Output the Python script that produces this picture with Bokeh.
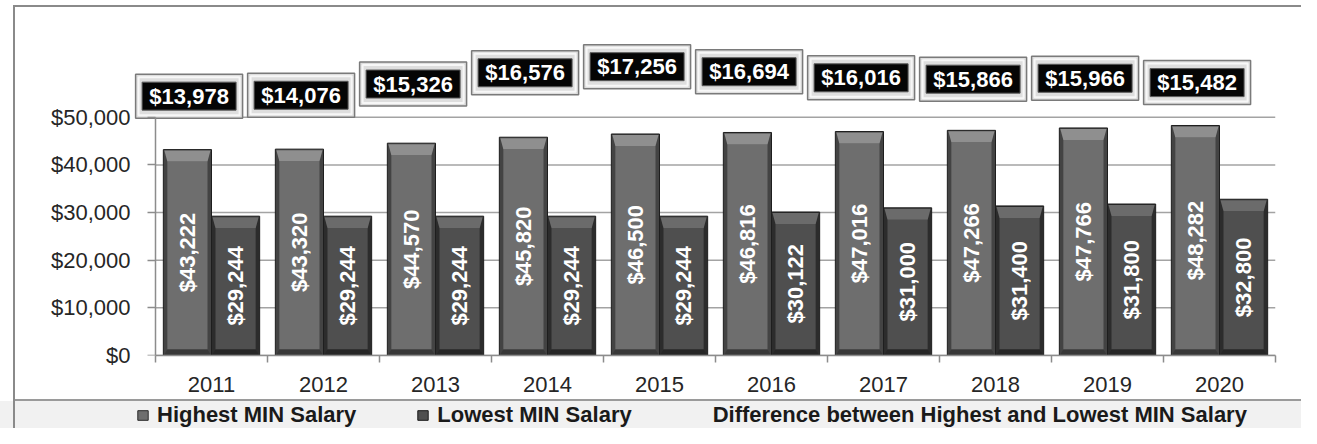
import math
from bokeh.plotting import figure
from bokeh.layouts import column
from bokeh.models import (Range1d, FixedTicker, NumeralTickFormatter, Legend, LegendItem,
                          LinearAxis)
from bokeh.core.properties import value
from bokeh.embed import file_html
from bokeh.resources import INLINE

# ---------------- data ----------------
years = ["2011", "2012", "2013", "2014", "2015", "2016", "2017", "2018", "2019", "2020"]
highest = [43222, 43320, 44570, 45820, 46500, 46816, 47016, 47266, 47766, 48282]
lowest = [29244, 29244, 29244, 29244, 29244, 30122, 31000, 31400, 31800, 32800]
difference = [13978, 14076, 15326, 16576, 17256, 16694, 16016, 15866, 15966, 15482]
y_ticks = [0, 10000, 20000, 30000, 40000, 50000]
series_names = ["Highest MIN Salary", "Lowest MIN Salary",
                "Difference between Highest and Lowest MIN Salary"]

# ---------------- layout ----------------
W = 1301
H_MAIN, H_LEG = 401, 27
AXIS_X = 155                 # pixel position of the value axis (x = 0)
B_LEFT, B_RIGHT, B_TOP = 133, 26, 12
FRAME_BOTTOM = 355
B_BOTTOM = H_MAIN - FRAME_BOTTOM
FRAME_W = W - B_LEFT - B_RIGHT
FRAME_H = H_MAIN - B_TOP - B_BOTTOM
Y_END = 72000
FONT = value("Liberation Sans")
GRAY_AX = "#8c8c8c"
BORDER = "#8a8a8a"

n = len(years)
px_per_cat = (W - B_RIGHT - AXIS_X) / n
X_PAD = (AXIS_X - B_LEFT) / px_per_cat

p = figure(width=W, height=H_MAIN, output_backend="svg", toolbar_location=None,
           x_range=Range1d(-X_PAD, n), y_range=Range1d(0, Y_END),
           min_border_left=B_LEFT, min_border_right=B_RIGHT,
           min_border_top=B_TOP, min_border_bottom=B_BOTTOM)
p.extra_y_ranges = {"diff": Range1d(-14892, 23287)}
p.outline_line_color = None
p.background_fill_alpha = 0
p.border_fill_alpha = 0
# chart border (left edge, top edge) and legend separator (bottom edge)
g = f"linear-gradient({BORDER},{BORDER})"
p.styles = {
    "background-color": "white",
    "background-image": f"{g}, {g}, linear-gradient(#9a9a9a,#9a9a9a)",
    "background-size": "2px 100%, 100% 2px, 100% 2px",
    "background-position": "13px 6px, 13px 5px, 13px 100%",
    "background-repeat": "no-repeat",
}

dx = (n + X_PAD) / FRAME_W      # data units per pixel (x)
dy = Y_END / FRAME_H            # data units per pixel (y)

# ---------------- axes ----------------
centers = [i + 0.5 for i in range(n)]
p.xaxis.ticker = FixedTicker(ticks=centers, minor_ticks=list(range(n + 1)))
p.xaxis.bounds = (0, n)
p.xaxis.major_label_overrides = {c: y for c, y in zip(centers, years)}
p.xaxis.major_tick_line_color = None
p.xaxis.major_tick_out = 0
p.xaxis.major_tick_in = 0
p.xaxis.minor_tick_line_color = GRAY_AX
p.xaxis.minor_tick_line_width = 1.5
p.xaxis.minor_tick_out = 7
p.xaxis.minor_tick_in = 0
p.xaxis.axis_line_color = GRAY_AX
p.xaxis.axis_line_width = 1.5
p.xaxis.major_label_standoff = 14
p.xaxis.major_label_text_font = "Liberation Sans"
p.xaxis.major_label_text_font_size = "22px"
p.xaxis.major_label_text_color = "#262626"

# tick labels of the value axis
y_fmt = NumeralTickFormatter(format="$0,0")
p.yaxis.ticker = FixedTicker(ticks=y_ticks)
p.yaxis.bounds = (y_ticks[0], y_ticks[-1])
p.yaxis.formatter = y_fmt
p.yaxis.axis_line_color = None
p.yaxis.major_tick_line_color = None
p.yaxis.minor_tick_line_color = None
p.yaxis.major_tick_out = 0
p.yaxis.major_tick_in = 0
p.yaxis.major_label_standoff = 3
p.yaxis.major_label_text_font = "Liberation Sans"
p.yaxis.major_label_text_font_size = "22px"
p.yaxis.major_label_text_color = "#262626"

# line + ticks of the value axis, pinned at x = 0
ax_line = LinearAxis(fixed_location=0, ticker=FixedTicker(ticks=y_ticks),
                     bounds=(y_ticks[0], y_ticks[-1]), formatter=y_fmt,
                     axis_line_color=GRAY_AX, axis_line_width=1.5,
                     major_tick_line_color=GRAY_AX, major_tick_line_width=1.5,
                     major_tick_out=8, major_tick_in=0, minor_tick_line_color=None,
                     major_label_text_font_size="0px", major_label_text_alpha=0,
                     major_label_standoff=0)
p.add_layout(ax_line, "left")

p.xgrid.grid_line_color = None
p.ygrid.grid_line_color = None
# horizontal gridlines spanning the category area only
p.segment(x0=0, x1=n, y0=y_ticks, y1=y_ticks, line_color="#a3a3a3",
          line_width=1.5, level="underlay")

# ---------------- bars ----------------
BAR_W = 0.43
OFF = 0.215
SIDE = 4 * dx
CAP = 12 * dy
BOT = 6 * dy


def draw_bars(xc, vals, edge, face, cap, bottom_col):
    p.vbar(x=xc, width=BAR_W, top=vals, bottom=0, fill_color=edge,
           line_color="#1e1e1e", line_width=1)
    p.vbar(x=xc, width=BAR_W - 2 * SIDE, top=[v - CAP for v in vals], bottom=BOT,
           fill_color=face, line_color=None)
    half = BAR_W / 2
    top_xs = [[x - half + dx, x + half - dx, x + half - SIDE, x - half + SIDE] for x in xc]
    top_ys = [[v - dy, v - dy, v - CAP, v - CAP] for v in vals]
    p.patches(top_xs, top_ys, fill_color=cap, line_color=None)
    bot_xs = [[x - half + SIDE, x + half - SIDE, x + half - dx, x - half + dx] for x in xc]
    bot_ys = [[BOT, BOT, dy, dy] for _ in vals]
    p.patches(bot_xs, bot_ys, fill_color=bottom_col, line_color=None)


HIGH_STYLE = ("#434343", "#6e6e6e", "#8f8f8f", "#383838")
LOW_STYLE = ("#2c2c2c", "#4f4f4f", "#6b6b6b", "#262626")
x_high = [c - OFF for c in centers]
x_low = [c + OFF for c in centers]
draw_bars(x_high, highest, *HIGH_STYLE)
draw_bars(x_low, lowest, *LOW_STYLE)

# labels inside bars (rotated)
for xs, vals in ((x_high, highest), (x_low, lowest)):
    p.text(x=xs, y=[v / 2 for v in vals], text=[f"${v:,}" for v in vals],
           angle=math.pi / 2, text_align="center", text_baseline="middle",
           text_color="white", text_font=FONT, text_font_style="bold",
           text_font_size="22px")

# ---------------- difference series (hidden line + boxed labels) ----------------
p.line(x=centers, y=difference, y_range_name="diff", line_alpha=0)
x_lab = [c - 0.2 for c in centers]
p.rect(x=x_lab, y=difference, width=107, height=44, width_units="screen",
       height_units="screen", y_range_name="diff", fill_color="#dedede",
       line_color="#7a7a7a", line_width=1.5)
p.rect(x=x_lab, y=difference, width=101, height=38, width_units="screen",
       height_units="screen", y_range_name="diff", fill_color=None,
       line_color="#f7f7f7", line_width=2)
p.rect(x=x_lab, y=difference, width=94, height=28, width_units="screen",
       height_units="screen", y_range_name="diff", fill_color="#050505",
       line_color="#5a5a5a", line_width=1)
p.text(x=x_lab, y=difference, text=[f"${v:,}" for v in difference], y_range_name="diff",
       text_align="center", text_baseline="middle", text_color="white",
       text_font=FONT, text_font_style="bold", text_font_size="22px")

# ---------------- legend strip ----------------
q = figure(width=W, height=H_LEG, output_backend="svg", toolbar_location=None,
           x_range=Range1d(0, W), y_range=Range1d(0, H_LEG),
           x_axis_location=None, y_axis_location=None,
           min_border=0, min_border_left=0, min_border_right=0,
           min_border_top=0, min_border_bottom=0)
q.grid.visible = False
q.outline_line_color = None
q.background_fill_alpha = 0
q.border_fill_alpha = 0
q.styles = {
    "background-color": "#f1f1f1",
    "background-image": g,
    "background-size": "2px 100%",
    "background-position": "13px 0",
    "background-repeat": "no-repeat",
}

# proxies carrying the series styles for the legend
lh = q.vbar(x=centers, top=highest, width=BAR_W, fill_color=HIGH_STYLE[1],
            line_color="#2a2a2a", visible=False)
ll = q.vbar(x=centers, top=lowest, width=BAR_W, fill_color=LOW_STYLE[1],
            line_color="#1a1a1a", visible=False)
ld = q.line(x=centers, y=difference, line_alpha=0, visible=False)

legend = Legend(items=[LegendItem(label=series_names[0], renderers=[lh]),
                       LegendItem(label=series_names[1], renderers=[ll]),
                       LegendItem(label=series_names[2], renderers=[ld])],
                orientation="horizontal", location=(3, 0),
                background_fill_alpha=0, border_line_color=None,
                inactive_fill_alpha=0,
                label_text_font="Liberation Sans", label_text_font_style="bold",
                label_text_font_size="22px", label_text_color="#1a1a1a",
                glyph_width=13, glyph_height=12, label_standoff=8, spacing=60,
                padding=0, margin=0)
q.add_layout(legend)

layout = column(p, q, spacing=0)
open("out.html", "w").write(file_html(layout, INLINE))
